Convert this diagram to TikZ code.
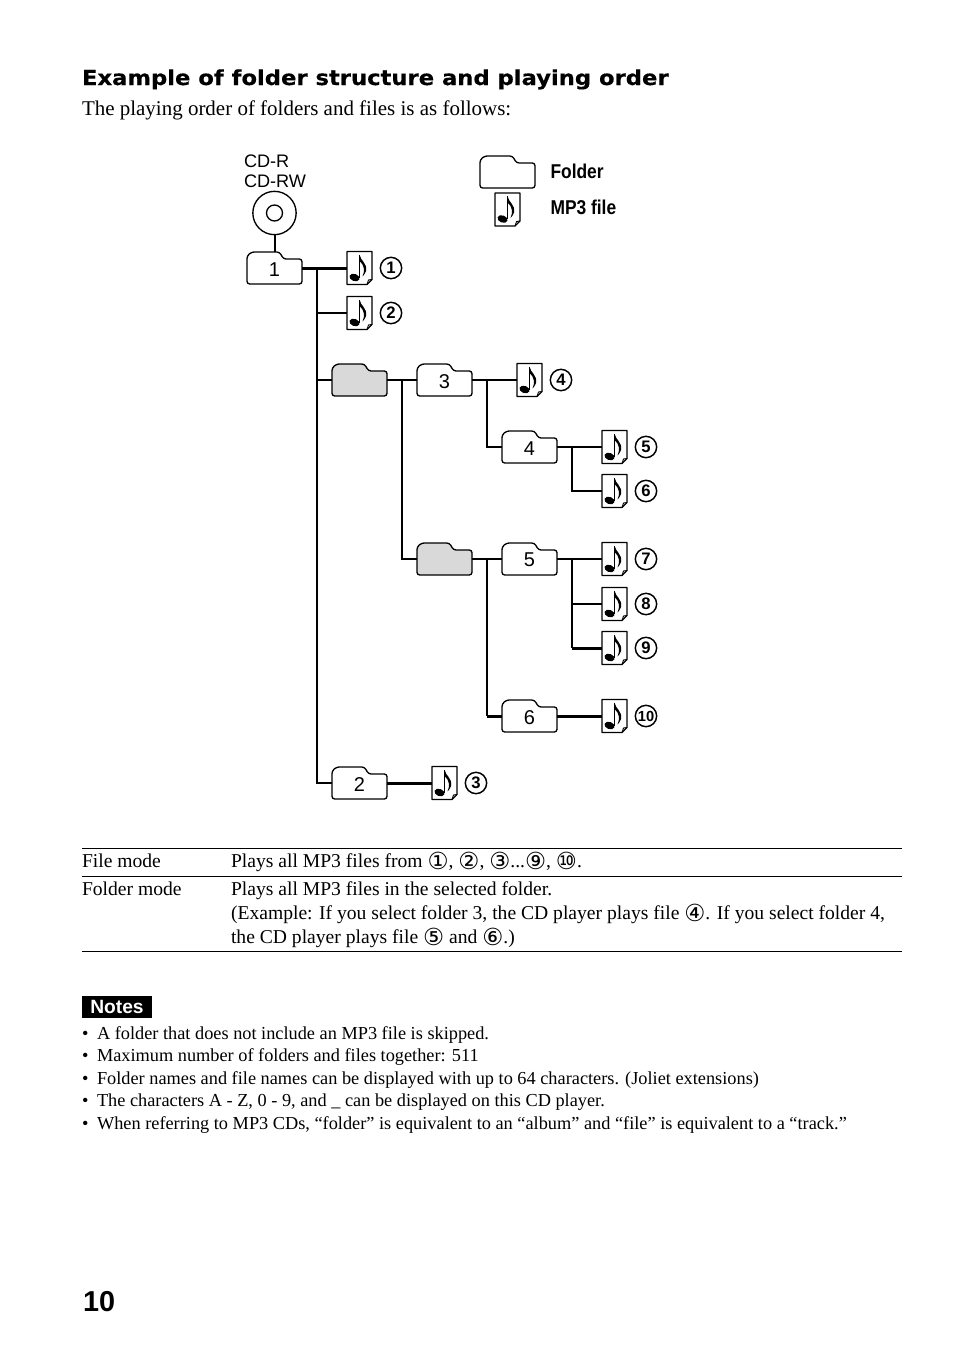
\documentclass[tikz,border=0pt]{standalone}
\usepackage{fontspec}
\setmainfont{Liberation Serif}
\newfontfamily\hfont{Liberation Sans}
\newfontfamily\condfont[FakeStretch=0.87]{Liberation Sans}
\newfontfamily\titlefont[FakeStretch=1.097,BoldFeatures={FakeBold=0.4}]{DejaVu Sans}
\newfontfamily\circfont[Scale=1.2]{DejaVu Sans}
\newcommand{\cn}[1]{{\raisebox{-2pt}{\circfont #1}}}
\newcommand{\introsize}{\fontsize{15.73}{18}\selectfont}
\newcommand{\bodysize}{\fontsize{14.7}{18}\selectfont}
\newcommand{\notesize}{\fontsize{13.73}{16}\selectfont}
\tikzset{
  x=0.75pt,y=-0.75pt,
  txt/.style={anchor=base west,inner sep=0pt,outer sep=0pt},
  introtext/.style={txt,font=\introsize},
  bodytext/.style={txt,font=\bodysize},
  notetext/.style={txt,font=\notesize},
  foldernode/.style={minimum width=41.25pt,minimum height=24pt,inner sep=0pt,font=\hfont\fontsize{15}{15}\selectfont},
  filenode/.style={minimum width=18.75pt,minimum height=24.75pt,inner sep=0pt},
  numnode/.style={circle,draw=black,line width=1.1pt,minimum size=16pt,inner sep=0pt,font=\hfont\bfseries\fontsize{12.5}{12.5}\selectfont},
  numsmall/.style={numnode,font=\hfont\bfseries\fontsize{11}{11}\selectfont},
  iconline/.style={line width=1pt,line join=round},
  conn/.style={line width=1.5pt},
  connb/.style={line width=2.25pt},
  rule/.style={line width=0.6pt},
  legendtext/.style={txt,font=\condfont\bfseries\fontsize{15}{15}\selectfont},
  cdtext/.style={txt,font=\hfont\fontsize{13.6}{13.6}\selectfont},
}
\newcommand{\folderat}[5]{%
  \node[foldernode] (#1) at (#2,#3) {};
  \draw[iconline,fill=#5,rounded corners=2pt,shift={(#1.center)}]
    (-27.5,16) -- (-27.5,-12) -- (-23,-16) -- (5,-16) -- (9,-9) -- (27.5,-9) -- (27.5,16) -- cycle;
  \node[foldernode,yshift=-0.9pt] at (#1.center) {#4};
}
\newcommand{\fileat}[3]{%
  \node[filenode] (#1) at (#2,#3) {};
  \begin{scope}[shift={(#1.center)}]
    \draw[iconline,fill=white] (-12.5,-16.5) -- (12.5,-16.5) -- (12.5,11.5) -- (7.5,16.5) -- (-12.5,16.5) -- cycle;
    \draw[line width=0.7pt] (12.5,11.5) -- (9,12) -- (7.5,16.5);
    \fill[rotate around={-20:(-5,9.5)}] (-5,9.5) ellipse [x radius=5.2,y radius=3.6];
    \draw[line width=1pt] (0,9.5) -- (0,-13.5);
    \fill (0,-13.5) .. controls (1,-7) and (8,-5) .. (6.5,3) .. controls (6,5) and (4.5,7) .. (3,8.5)
       .. controls (5.5,3) and (5,-3) .. (0,-7) -- cycle;
  \end{scope}
}
\begin{document}
\begin{tikzpicture}
\useasboundingbox (0,0) rectangle (954,1357);

% headings
\node[txt,font=\titlefont\bfseries\fontsize{15.5}{17}\selectfont] (title) at (82,85) {Example of folder structure and playing order};
\node[introtext] (intro) at (82,115) {The playing order of folders and files is as follows:};

% legend
\node[cdtext] (cdr) at (244,167) {CD-R};
\node[cdtext] (cdrw) at (244,187) {CD-RW};
\folderat{legf}{507.5}{172}{}{white}
\fileat{legm}{507.5}{209.5}
\node[legendtext] (legft) at (550.5,178) {Folder};
\node[legendtext] (legmt) at (550.5,214) {MP3 file};

% CD
\node[circle,draw=black,line width=1pt,minimum size=32.5pt,inner sep=0pt] (cd) at (274.5,213) {};
\node[circle,draw=black,line width=1pt,minimum size=12pt,inner sep=0pt] (cdhole) at (cd.center) {};

% folders
\folderat{f1}{274.5}{268}{1}{white}
\folderat{g1}{359.5}{380}{}{black!15}
\folderat{f3}{444.5}{380}{3}{white}
\folderat{f4}{529.5}{447}{4}{white}
\folderat{g2}{444.5}{559}{}{black!15}
\folderat{f5}{529.5}{559}{5}{white}
\folderat{f6}{529.5}{716}{6}{white}
\folderat{f2}{359.5}{783}{2}{white}

% files
\fileat{m1}{359.5}{268}
\fileat{m2}{359.5}{313}
\fileat{m3}{444.5}{783}
\fileat{m4}{529.5}{380}
\fileat{m5}{614.5}{447}
\fileat{m6}{614.5}{491}
\fileat{m7}{614.5}{559}
\fileat{m8}{614.5}{604}
\fileat{m9}{614.5}{648}
\fileat{m10}{614.5}{716}

% numbers
\node[numnode] (n1) at (391,268) {1};
\node[numnode] (n2) at (391,313) {2};
\node[numnode] (n3) at (476,783) {3};
\node[numnode] (n4) at (561,380) {4};
\node[numnode] (n5) at (646,447) {5};
\node[numnode] (n6) at (646,491) {6};
\node[numnode] (n7) at (646,559) {7};
\node[numnode] (n8) at (646,604) {8};
\node[numnode] (n9) at (646,648) {9};
\node[numsmall] (n10) at (646,716) {10};

% junctions
\coordinate (j1) at (317,268);
\coordinate (j2) at (402,380);
\coordinate (j3) at (487,380);
\coordinate (j4) at (572,447);
\coordinate (j5) at (487,559);
\coordinate (j6) at (572,559);
\coordinate (j7) at (572,648);
\coordinate (j8) at (487,716);

% connectors
\draw[conn] (cd.south) -- (f1.north);
\draw[connb] (f1.east) -- (m1.west);
\draw[conn] (j1) |- (m2.west);
\draw[conn] (j1) |- (g1.west);
\draw[conn] (j1) |- (f2.west);
\draw[conn] (g1.east) -- (f3.west);
\draw[conn] (f3.east) -- (m4.west);
\draw[conn] (j2) |- (g2.west);
\draw[conn] (j3) |- (f4.west);
\draw[conn] (f4.east) -- (m5.west);
\draw[conn] (j4) |- (m6.west);
\draw[conn] (g2.east) -- (f5.west);
\draw[conn] (f5.east) -- (m7.west);
\draw[conn] (j6) |- (m8.west);
\draw[conn] (j6) -- (j7);
\draw[connb] (j7) -- (m9.west);
\draw[conn] (j5) -- (j8);
\draw[connb] (j8) -- (f6.west);
\draw[connb] (f6.east) -- (m10.west);
\draw[connb] (f2.east) -- (m3.west);

% table
\coordinate (tl1) at (82,848); \coordinate (tr1) at (902,848);
\coordinate (tl2) at (82,876); \coordinate (tr2) at (902,876);
\coordinate (tl3) at (82,951); \coordinate (tr3) at (902,951);
\draw[rule] (tl1) -- (tr1);
\draw[rule] (tl2) -- (tr2);
\draw[rule] (tl3) -- (tr3);
\node[bodytext] (t1a) at (82,867) {File mode};
\node[bodytext] (t1b) at (231,867) {Plays all MP3 files from \cn{①}, \cn{②}, \cn{③}...\cn{⑨}, \cn{⑩}.};
\node[bodytext] (t2a) at (82,895) {Folder mode};
\node[bodytext] (t2b) at (231,895) {Plays all MP3 files in the selected folder.};
\node[bodytext] (t2c) at (231,919) {(Example: If you select folder 3, the CD player plays file \cn{④}. If you select folder 4,};
\node[bodytext] (t2d) at (231,943) {the CD player plays file \cn{⑤} and \cn{⑥}.)};

% notes
\node[fill=black,text=white,minimum width=52.5pt,minimum height=16.5pt,inner sep=0pt,font=\hfont\bfseries\fontsize{14.4}{14.4}\selectfont] (notes) at (117,1006.5) {Notes};
\node[notetext] (b1) at (82,1039) {•}; \node[notetext] (l1) at (97,1039) {A folder that does not include an MP3 file is skipped.};
\node[notetext] (b2) at (82,1061) {•}; \node[notetext] (l2) at (97,1061) {Maximum number of folders and files together: 511};
\node[notetext] (b3) at (82,1084) {•}; \node[notetext] (l3) at (97,1084) {Folder names and file names can be displayed with up to 64 characters. (Joliet extensions)};
\node[notetext] (b4) at (82,1106) {•}; \node[notetext] (l4) at (97,1106) {The characters A - Z, 0 - 9, and \_ can be displayed on this CD player.};
\node[notetext] (b5) at (82,1129) {•}; \node[notetext] (l5) at (97,1129) {When referring to MP3 CDs, “folder” is equivalent to an “album” and “file” is equivalent to a “track.”};

% page number
\node[txt,font=\hfont\bfseries\fontsize{21.6}{22}\selectfont] (page) at (83,1311) {10};
\end{tikzpicture}
\end{document}
